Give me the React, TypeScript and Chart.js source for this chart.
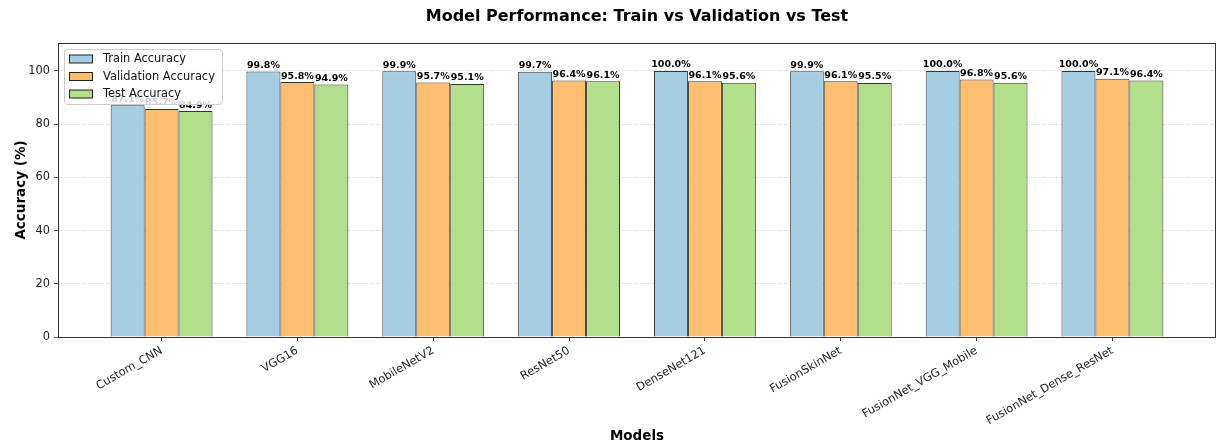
import React, { useEffect, useRef } from "react";
import { Chart, registerables } from "chart.js";

Chart.register(...registerables);

const categories = [
  "Custom_CNN",
  "VGG16",
  "MobileNetV2",
  "ResNet50",
  "DenseNet121",
  "FusionSkinNet",
  "FusionNet_VGG_Mobile",
  "FusionNet_Dense_ResNet",
];
const trainAcc = [87.1, 99.8, 99.9, 99.7, 100.0, 99.9, 100.0, 100.0];
const valAcc = [85.7, 95.8, 95.7, 96.4, 96.1, 96.1, 96.8, 97.1];
const testAcc = [84.9, 94.9, 95.1, 96.1, 95.6, 95.5, 95.6, 96.4];
const yTicks = [0, 20, 40, 60, 80, 100];
const seriesNames = ["Train Accuracy", "Validation Accuracy", "Test Accuracy"];
const seriesColors = ["#a6cee3", "#fdbf6f", "#b2df8a"];

const FONT = "'DejaVu Sans', sans-serif";

const overlayPlugin = {
  id: "overlay",
  afterDraw(chart: any) {
    const ctx = chart.ctx;
    const ca = chart.chartArea;
    ctx.save();
    // frame
    ctx.strokeStyle = "#333";
    ctx.lineWidth = 1;
    ctx.strokeRect(Math.round(ca.left) + 0.5, Math.round(ca.top) + 0.5, Math.round(ca.right - ca.left) - 1, Math.round(ca.bottom - ca.top));
    // value labels
    ctx.fillStyle = "#000";
    ctx.font = "bold 9.5px " + FONT;
    ctx.textAlign = "center";
    ctx.textBaseline = "alphabetic";
    chart.data.datasets.forEach((ds: any, di: number) => {
      const meta = chart.getDatasetMeta(di);
      meta.data.forEach((bar: any, i: number) => {
        const v = ds.data[i].y;
        ctx.fillText(v.toFixed(1) + "%", bar.x, bar.y - 3.5);
      });
    });
    // legend
    const lx = ca.left + 6, ly = ca.top + 6, lw = 158, lh = 55;
    ctx.beginPath();
    if (ctx.roundRect) ctx.roundRect(lx + 0.5, ly + 0.5, lw, lh, 3);
    else ctx.rect(lx + 0.5, ly + 0.5, lw, lh);
    ctx.fillStyle = "rgba(255,255,255,0.8)";
    ctx.fill();
    ctx.strokeStyle = "#cccccc";
    ctx.lineWidth = 1;
    ctx.stroke();
    ctx.font = "11.4px " + FONT;
    ctx.textAlign = "left";
    ctx.textBaseline = "middle";
    seriesNames.forEach((name, i) => {
      const cy = ly + 10 + i * 17.5;
      ctx.fillStyle = seriesColors[i];
      ctx.fillRect(lx + 5.5, cy - 4, 23, 8);
      ctx.strokeStyle = "rgba(0,0,0,0.85)";
      ctx.strokeRect(lx + 5.5, cy - 4, 23, 8);
      ctx.fillStyle = "#111";
      ctx.fillText(name, lx + 39, cy + 0.5);
    });
    // title
    ctx.font = "bold 16px " + FONT;
    ctx.textAlign = "center";
    ctx.textBaseline = "middle";
    ctx.fillStyle = "#000";
    ctx.fillText("Model Performance: Train vs Validation vs Test", (ca.left + ca.right) / 2, 17);
    ctx.restore();
  },
};

export default function App() {
  const ref = useRef<HTMLCanvasElement | null>(null);
  useEffect(() => {
    document.body.style.margin = "0";
    const canvas = ref.current!;
    const mk = (arr: number[]) => arr.map((y, i) => ({ x: i, y }));
    const chart = new Chart(canvas, {
      type: "bar",
      data: {
        datasets: [trainAcc, valAcc, testAcc].map((arr, i) => ({
          label: seriesNames[i],
          data: mk(arr),
          backgroundColor: seriesColors[i],
          borderColor: "rgba(0,0,0,0.8)",
          borderWidth: 1,
          categoryPercentage: 0.75,
          barPercentage: 1.0,
        })),
      },
      options: {
        responsive: false,
        animation: false,
        devicePixelRatio: 1,
        layout: { padding: { top: 43, right: 6, left: 0, bottom: 0 } },
        plugins: {
          legend: { display: false },
          tooltip: { enabled: false },
          title: { display: false },
        },
        scales: {
          x: {
            type: "linear",
            offset: false,
            min: -0.7625,
            max: 7.7625,
            afterBuildTicks: (axis: any) => {
              axis.ticks = categories.map((_, i) => ({ value: i }));
            },
            afterFit: (axis: any) => {
              axis.height = 108;
            },
            border: { display: false },
            grid: { display: true, offset: false, drawOnChartArea: false, tickLength: 4, tickColor: "#333", lineWidth: 1 },
            ticks: {
              autoSkip: false,
              minRotation: 30,
              maxRotation: 30,
              padding: 3,
              color: "#222",
              font: { family: FONT, size: 11.4 },
              callback: (v: any) => categories[Math.round(Number(v))] ?? "",
            },
            title: {
              display: true,
              text: "Models",
              color: "#000",
              font: { family: FONT, size: 13.5, weight: "bold" },
              padding: { top: 0, bottom: 0 },
            },
          },
          y: {
            type: "linear",
            min: 0,
            max: 110.5,
            afterBuildTicks: (axis: any) => {
              axis.ticks = yTicks.map((v) => ({ value: v }));
            },
            afterFit: (axis: any) => {
              axis.width = 58;
            },
            border: { display: false, dash: [4, 2] },
            grid: {
              color: "#dddddd",
              lineWidth: 0.8,
              tickLength: 4,
              tickColor: "#333",
            },
            ticks: {
              padding: 4,
              color: "#222",
              font: { family: FONT, size: 11.4 },
            },
            title: {
              display: true,
              text: "Accuracy (%)",
              color: "#000",
              font: { family: FONT, size: 13.5, weight: "bold" },
              padding: { top: 13, bottom: 0 },
            },
          },
        },
      } as any,
      plugins: [overlayPlugin],
    });
    return () => chart.destroy();
  }, []);
  return (
    <div style={{ width: 1222, height: 445 }}>
      <canvas ref={ref} width={1222} height={445} style={{ display: "block" }} />
    </div>
  );
}
